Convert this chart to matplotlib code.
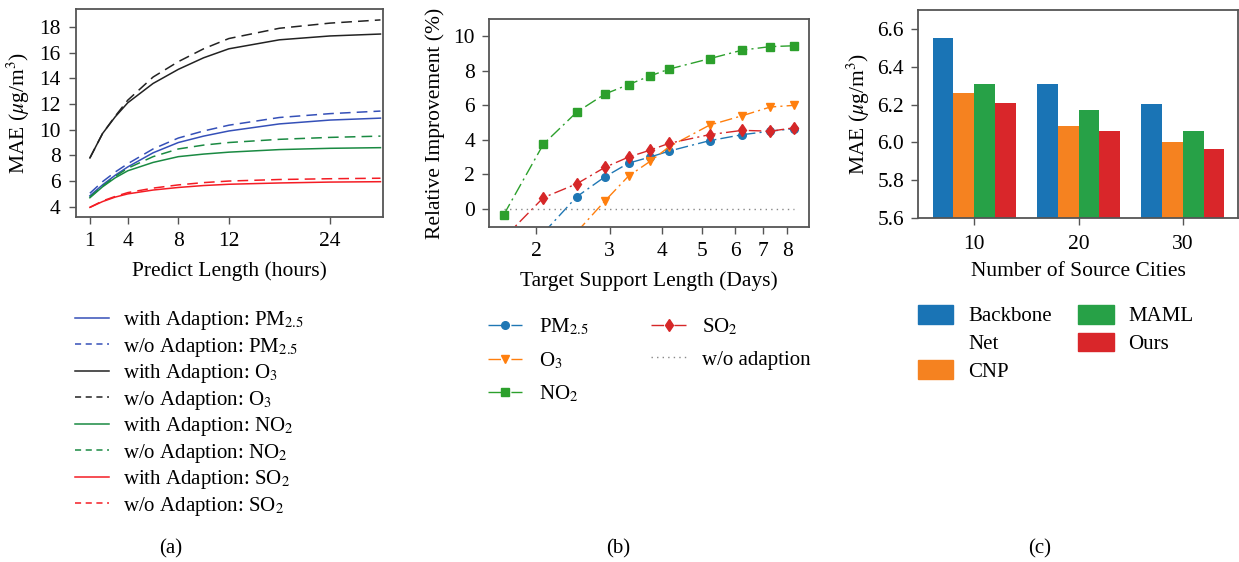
import matplotlib
matplotlib.use("Agg")
import matplotlib.pyplot as plt
import numpy as np
from matplotlib.lines import Line2D
from matplotlib.patches import Patch

plt.rcParams['font.family'] = ['Liberation Serif', 'DejaVu Serif']
plt.rcParams['mathtext.fontset'] = 'stix'
plt.rcParams['font.size'] = 15

# ---------------- data: panel (a) ----------------
hours = [1, 2, 3, 4, 6, 8, 10, 12, 16, 20, 24]
hour_tick_pos = [1, 4, 8, 12, 20]
hour_tick_lab = ['1', '4', '8', '12', '24']
pm25_with = [4.85, 5.7, 6.45, 7.1, 8.2, 9.0, 9.5, 9.9, 10.45, 10.75, 10.9]
pm25_wo = [5.05, 5.95, 6.7, 7.35, 8.5, 9.35, 9.9, 10.35, 10.95, 11.25, 11.45]
o3_with = [7.8, 9.7, 11.0, 12.1, 13.6, 14.7, 15.6, 16.3, 17.0, 17.3, 17.45]
o3_wo = [7.8, 9.7, 11.05, 12.3, 14.1, 15.3, 16.3, 17.1, 17.9, 18.3, 18.55]
no2_with = [4.7, 5.55, 6.25, 6.8, 7.45, 7.9, 8.1, 8.25, 8.45, 8.55, 8.6]
no2_wo = [4.75, 5.6, 6.35, 7.0, 7.9, 8.5, 8.8, 9.0, 9.25, 9.4, 9.5]
so2_with = [3.95, 4.4, 4.75, 5.0, 5.3, 5.5, 5.65, 5.75, 5.85, 5.92, 5.95]
so2_wo = [3.95, 4.45, 4.8, 5.1, 5.45, 5.7, 5.88, 6.0, 6.12, 6.18, 6.22]

# ---------------- data: panel (b) ----------------
days = [1.67, 2.08, 2.5, 2.92, 3.33, 3.75, 4.17, 5.21, 6.25, 7.29, 8.33]
nan = np.nan
imp_pm25 = [nan, -1.4, 0.7, 1.85, 2.65, 3.0, 3.35, 3.95, 4.3, 4.5, 4.65]
imp_o3 = [nan, nan, -1.35, 0.45, 1.9, 2.75, 3.6, 4.85, 5.4, 5.9, 6.0]
imp_no2 = [-0.35, 3.75, 5.6, 6.65, 7.2, 7.7, 8.1, 8.7, 9.2, 9.4, 9.45]
imp_so2 = [-1.7, 0.65, 1.45, 2.4, 3.0, 3.4, 3.8, 4.3, 4.55, 4.5, 4.7]
imp_none = [0] * 11
day_ticks = [2, 3, 4, 5, 6, 7, 8]

# ---------------- data: panel (c) ----------------
n_cities = ['10', '20', '30']
mae_backbone = [6.55, 6.31, 6.205]
mae_cnp = [6.26, 6.085, 6.0]
mae_maml = [6.31, 6.17, 6.06]
mae_ours = [6.207, 6.058, 5.963]

W, H = 1239, 562
fig = plt.figure(figsize=(W / 100, H / 100), dpi=100)

def fx(px):
    return px / W

def fy(py):
    return 1 - py / H

SPINE = '#555555'
FS = 15.5

def style_axes(ax, pad=5):
    for s in ax.spines.values():
        s.set_color(SPINE)
        s.set_linewidth(1.3)
    ax.tick_params(direction='out', length=5, width=1, color=SPINE,
                   labelsize=FS, pad=pad)

dash = (0, (7, 4))
dashdot = (0, (9, 3, 1.5, 3))

# ---------------- panel (a) ----------------
ax1 = fig.add_axes([fx(76), fy(217), fx(383 - 76), (217 - 9) / H])
c_blue, c_black, c_green, c_red = '#3550b8', '#222222', '#1a8a42', '#f41c24'
ax1.plot(hours, pm25_with, color=c_blue, lw=1.1, ls='-')
ax1.plot(hours, pm25_wo, color=c_blue, lw=1.1, ls=dash)
ax1.plot(hours, o3_with, color=c_black, lw=1.1, ls='-')
ax1.plot(hours, o3_wo, color=c_black, lw=1.1, ls=dash)
ax1.plot(hours, no2_with, color=c_green, lw=1.1, ls='-')
ax1.plot(hours, no2_wo, color=c_green, lw=1.1, ls=dash)
ax1.plot(hours, so2_with, color=c_red, lw=1.1, ls='-')
ax1.plot(hours, so2_wo, color=c_red, lw=1.1, ls=dash)
ax1.set_xlim(-0.1, 24.2)
ax1.set_ylim(3.2, 19.4)
ax1.set_xticks(hour_tick_pos)
ax1.set_xticklabels(hour_tick_lab)
ax1.set_yticks([4, 6, 8, 10, 12, 14, 16, 18])
style_axes(ax1, pad=6)
ax1.set_xlabel('Predict Length (hours)', fontsize=FS, labelpad=7)
ax1.set_ylabel('MAE ($\\mu$g/m$^3$)', fontsize=FS, labelpad=5)

leg_a_handles = [
    Line2D([], [], color=c_blue, lw=1.1, ls='-'),
    Line2D([], [], color=c_blue, lw=1.1, ls=(0, (4, 3))),
    Line2D([], [], color=c_black, lw=1.1, ls='-'),
    Line2D([], [], color=c_black, lw=1.1, ls=(0, (4, 3))),
    Line2D([], [], color=c_green, lw=1.1, ls='-'),
    Line2D([], [], color=c_green, lw=1.1, ls=(0, (4, 3))),
    Line2D([], [], color=c_red, lw=1.1, ls='-'),
    Line2D([], [], color=c_red, lw=1.1, ls=(0, (4, 3))),
]
leg_a_labels = [
    'with Adaption: PM$_{2.5}$', 'w/o Adaption: PM$_{2.5}$',
    'with Adaption: O$_3$', 'w/o Adaption: O$_3$',
    'with Adaption: NO$_2$', 'w/o Adaption: NO$_2$',
    'with Adaption: SO$_2$', 'w/o Adaption: SO$_2$',
]
fig.legend(leg_a_handles, leg_a_labels, loc='upper left',
           bbox_to_anchor=(fx(75), fy(309)), frameon=False, fontsize=15,
           borderpad=0, borderaxespad=0, handlelength=1.65,
           handletextpad=0.65, labelspacing=0.17)

# ---------------- panel (b) ----------------
ax2 = fig.add_axes([fx(489), fy(227), fx(809 - 489), (227 - 19) / H])
tab = {'pm': '#1f77b4', 'o3': '#ff7f0e', 'no2': '#2ca02c', 'so2': '#d62728'}
ax2.plot(days, imp_pm25, color=tab['pm'], ls=dashdot, lw=1.0, marker='o', ms=5.5)
ax2.plot(days, imp_o3, color=tab['o3'], ls=dashdot, lw=1.0, marker='v', ms=6)
ax2.plot(days, imp_no2, color=tab['no2'], ls=dashdot, lw=1.0, marker='s', ms=5.5)
ax2.plot(days, imp_so2, color=tab['so2'], ls=dashdot, lw=1.0, marker='d', ms=6)
ax2.plot(days, imp_none, color='#888888', ls=(0, (1, 3)), lw=1.0)
ax2.set_xscale('log')
ax2.set_xlim(1.54, 9.03)
ax2.set_ylim(-1.05, 11)
ax2.set_xticks(day_ticks)
ax2.set_xticklabels([str(d) for d in day_ticks])
ax2.xaxis.set_minor_locator(matplotlib.ticker.NullLocator())
ax2.set_yticks([0, 2, 4, 6, 8, 10])
style_axes(ax2, pad=5)
ax2.tick_params(axis='x', pad=6)
ax2.set_xlabel('Target Support Length (Days)', fontsize=FS, labelpad=7)
ax2.set_ylabel('Relative Improvement (%)', fontsize=FS, labelpad=6)

leg_b_handles = [
    Line2D([], [], color=tab['pm'], ls=dashdot, lw=1.0, marker='o', ms=5.5),
    Line2D([], [], color=tab['o3'], ls=dashdot, lw=1.0, marker='v', ms=6),
    Line2D([], [], color=tab['no2'], ls=dashdot, lw=1.0, marker='s', ms=5.5),
    Line2D([], [], color=tab['so2'], ls=dashdot, lw=1.0, marker='d', ms=6),
    Line2D([], [], color='#888888', ls=(0, (1, 3)), lw=1.0),
]
leg_b_labels = ['PM$_{2.5}$', 'O$_3$', 'NO$_2$', 'SO$_2$', 'w/o adaption']
fig.legend(leg_b_handles, leg_b_labels, loc='upper left', ncol=2,
           bbox_to_anchor=(fx(488), fy(317)), frameon=False, fontsize=15,
           borderpad=0, borderaxespad=0, handlelength=1.65,
           handletextpad=0.8, labelspacing=0.6, columnspacing=3.0)

# ---------------- panel (c) ----------------
ax3 = fig.add_axes([fx(918), fy(218), fx(1238 - 918), (218 - 10) / H])
xc = np.arange(len(n_cities))
bw = 0.2
bar_cols = ['#1a74b5', '#f58220', '#27a147', '#d9262a']
series = [mae_backbone, mae_cnp, mae_maml, mae_ours]
for i, (vals, col) in enumerate(zip(series, bar_cols)):
    ax3.bar(xc + (i - 1.5) * bw, vals, width=bw, color=col, bottom=0)
ax3.set_ylim(5.6, 6.7)
ax3.set_xlim(-0.54, 2.53)
ax3.set_xticks(xc)
ax3.set_xticklabels(n_cities)
ax3.set_yticks([5.6, 5.8, 6.0, 6.2, 6.4, 6.6])
ax3.set_yticklabels(['5.6', '5.8', '6.0', '6.2', '6.4', '6.6'])
style_axes(ax3, pad=5)
ax3.tick_params(axis='x', pad=7)
ax3.set_xlabel('Number of Source Cities', fontsize=FS, labelpad=6)
ax3.set_ylabel('MAE ($\\mu$g/m$^3$)', fontsize=FS, labelpad=4)

leg_c_handles = [Patch(color=bar_cols[0]), Patch(color='none'),
                 Patch(color=bar_cols[1]), Patch(color=bar_cols[2]),
                 Patch(color=bar_cols[3])]
leg_c_labels = ['Backbone', 'Net', 'CNP', 'MAML', 'Ours']
fig.legend(leg_c_handles, leg_c_labels, loc='upper left', ncol=2,
           bbox_to_anchor=(fx(918), fy(305)), frameon=False, fontsize=15,
           borderpad=0, borderaxespad=0, handlelength=1.7, handleheight=1.0,
           handletextpad=0.7, labelspacing=0.3, columnspacing=1.27)

# ---------------- sub-captions ----------------
fig.text(fx(171), fy(549), '(a)', ha='center', va='center', fontsize=15)
fig.text(fx(618), fy(549), '(b)', ha='center', va='center', fontsize=15)
fig.text(fx(1040), fy(549), '(c)', ha='center', va='center', fontsize=15)

fig.savefig('out.png', dpi=100)
